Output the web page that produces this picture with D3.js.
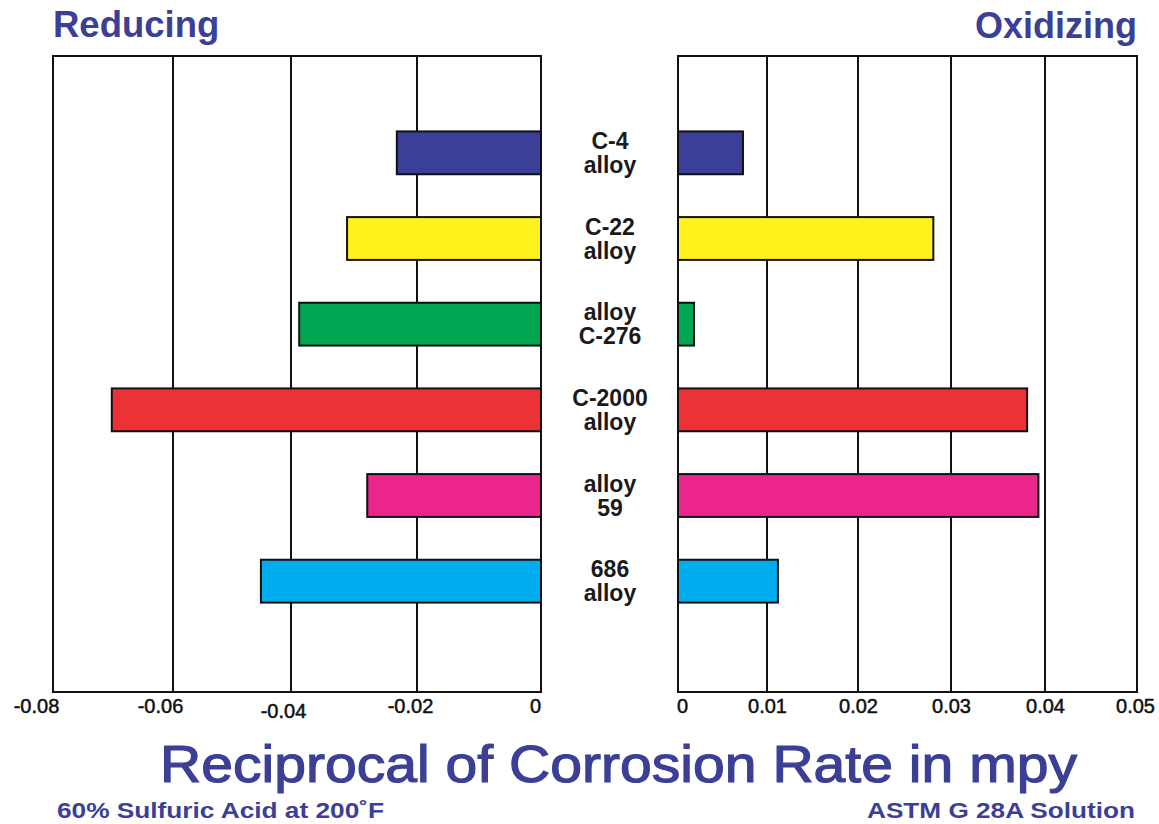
<!DOCTYPE html>
<html><head><meta charset="utf-8">
<script src="https://cdn.jsdelivr.net/npm/d3@7"></script>
<style>
html,body{margin:0;padding:0;background:#fff;}
svg{display:block;font-family:"Liberation Sans",Arial,sans-serif;}
</style></head>
<body>
<svg id="chart" width="1159" height="824"></svg>
<script>
const alloys = ["C-4", "C-22", "C-276", "C-2000", "59", "686"];
const labelLines = [["C-4","alloy"],["C-22","alloy"],["alloy","C-276"],["C-2000","alloy"],["alloy","59"],["686","alloy"]];
const reducing = [-0.0232, -0.0311, -0.0387, -0.0702, -0.0279, -0.0451];
const oxidizing = [0.0073, 0.0281, 0.0018, 0.0381, 0.0393, 0.0112];
const colors = ["#3b3f98", "#fff21c", "#00a651", "#ec3237", "#ec258e", "#00aeef"];
const leftTicks = [-0.08, -0.06, -0.04, -0.02, 0];
const leftTickLabels = ["-0.08", "-0.06", "-0.04", "-0.02", "0"];
const rightTicks = [0, 0.01, 0.02, 0.03, 0.04, 0.05];
const rightTickLabels = ["0", "0.01", "0.02", "0.03", "0.04", "0.05"];

const svg = d3.select("#chart");
const plotTop = 56, plotBottom = 692;
const titleColor = "#3b3f95";

const y = d3.scaleBand().domain(alloys).range([110, 624]).paddingInner(0.5).paddingOuter(0.25);
// piecewise-linear scales follow the slightly uneven gridline spacing of the original
const xL = d3.scaleLinear().domain(leftTicks).range([53, 173, 291, 417, 541]);
const xR = d3.scaleLinear().domain(rightTicks).range([678, 767, 858, 951, 1045, 1137]);

function panel(x, ticks, labels, values, dxs, dys) {
  const g = svg.append("g");
  const r = x.range();
  g.selectAll("line.grid").data(ticks).join("line")
    .attr("x1", d => x(d)).attr("x2", d => x(d))
    .attr("y1", plotTop).attr("y2", plotBottom)
    .attr("stroke", "#111").attr("stroke-width", 2);
  g.selectAll("rect.bar").data(alloys).join("rect")
    .attr("x", (d, i) => Math.min(x(0), x(values[i])))
    .attr("width", (d, i) => Math.abs(x(values[i]) - x(0)))
    .attr("y", d => y(d))
    .attr("height", y.bandwidth())
    .attr("fill", (d, i) => colors[i])
    .attr("stroke", "#111").attr("stroke-width", 2);
  g.append("rect")
    .attr("x", r[0]).attr("y", plotTop)
    .attr("width", r[r.length - 1] - r[0]).attr("height", plotBottom - plotTop)
    .attr("fill", "none").attr("stroke", "#111").attr("stroke-width", 2);
  const axis = d3.axisBottom(x).tickValues(ticks).tickSize(0)
    .tickFormat((d, i) => labels[i]);
  const ag = svg.append("g").attr("transform", `translate(0,${plotBottom})`).call(axis);
  ag.select(".domain").remove();
  ag.selectAll("text")
    .attr("font-family", "Liberation Sans, Arial, sans-serif")
    .attr("font-size", 20).attr("fill", "#111")
    .attr("stroke", "#111").attr("stroke-width", 0.5)
    .attr("y", 0).attr("dy", (d, i) => 21 + dys[i])
    .attr("dx", (d, i) => dxs[i]);
}
panel(xL, leftTicks, leftTickLabels, reducing, [-17, -13, -8, -7, -6], [0, 0, 5, 0, 0]);
panel(xR, rightTicks, rightTickLabels, oxidizing, [4, 0, 0, 0, 0, -2], [0, 0, 0, 0, 0, 0]);

const lg = svg.append("g");
alloys.forEach((a, i) => {
  const cy = y(a) + y.bandwidth() / 2;
  const t = lg.append("text").attr("x", 610).attr("text-anchor", "middle")
    .attr("font-size", 23).attr("font-weight", "bold").attr("fill", "#1a1a1a");
  labelLines[i].forEach((ln, k) => {
    t.append("tspan").attr("x", 610).attr("y", cy - 4 + k * 24).text(ln);
  });
});

svg.append("text").attr("x", 53).attr("y", 37).text("Reducing")
  .attr("font-size", 36.5).attr("font-weight", "bold").attr("fill", titleColor);
svg.append("text").attr("x", 1137).attr("y", 38).attr("text-anchor", "end").text("Oxidizing")
  .attr("font-size", 36).attr("font-weight", "bold").attr("fill", titleColor);
svg.append("text").attr("x", 160).attr("y", 782).text("Reciprocal of Corrosion Rate in mpy")
  .attr("font-size", 52).attr("fill", titleColor)
  .attr("stroke", titleColor).attr("stroke-width", 1.2)
  .attr("textLength", 917).attr("lengthAdjust", "spacingAndGlyphs");
svg.append("text").attr("x", 57).attr("y", 818).text("60% Sulfuric Acid at 200˚F")
  .attr("font-size", 22).attr("font-weight", "bold").attr("fill", titleColor)
  .attr("textLength", 327).attr("lengthAdjust", "spacingAndGlyphs");
svg.append("text").attr("x", 867).attr("y", 818).text("ASTM G 28A Solution")
  .attr("font-size", 22).attr("font-weight", "bold").attr("fill", titleColor)
  .attr("textLength", 268).attr("lengthAdjust", "spacingAndGlyphs");
</script>
</body></html>
